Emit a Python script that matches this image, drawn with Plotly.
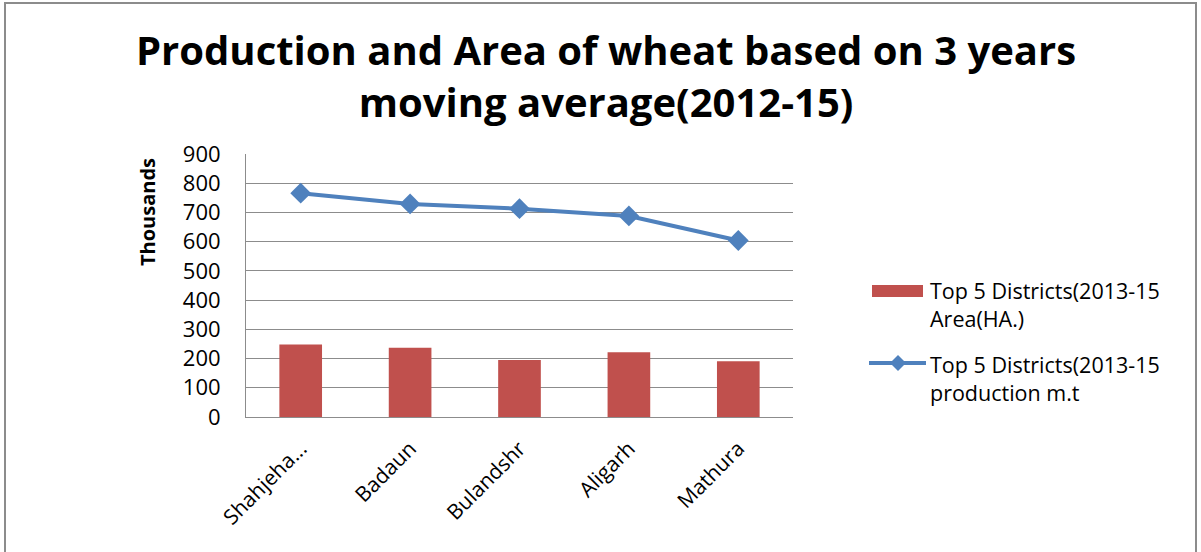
import plotly.graph_objects as go

districts = ["Shahjeha...", "Badaun", "Bulandshr", "Aligarh", "Mathura"]
area_vals = [248, 237, 195, 222, 191]
prod_vals = [766, 729, 713, 688, 604]
y_ticks = [0, 100, 200, 300, 400, 500, 600, 700, 800, 900]
legend_labels = ["Top 5 Districts(2013-15<br>Area(HA.)",
                 "Top 5 Districts(2013-15<br>production m.t"]
title_text = "Production and Area of wheat based on 3 years<br>moving average(2012-15)"

FONT = "'Open Sans', Lato, sans-serif"
BAR_C = "#C0504D"
LINE_C = "#4F81BD"
GRID_C = "#8C8C8C"

fig = go.Figure()
fig.add_trace(go.Bar(
    x=districts, y=area_vals, name=legend_labels[0],
    marker=dict(color=BAR_C, line=dict(width=0)),
    width=0.39, showlegend=False,
))
fig.add_trace(go.Scatter(
    x=districts, y=prod_vals, mode="lines+markers", name=legend_labels[1],
    line=dict(color=LINE_C, width=4),
    marker=dict(symbol="diamond", size=16, color=LINE_C),
    showlegend=False,
))

L, R, T, B = 246, 793, 154, 417
W, H = 1201, 552
pw, ph = R - L, B - T

def px(x):
    return (x - L) / pw

def py(y):
    return (B - y) / ph

shapes = [
    dict(type="rect", xref="paper", yref="paper",
         x0=px(5), x1=px(1196), y0=py(560), y1=py(3),
         line=dict(color="#8C8C8C", width=2), fillcolor="rgba(0,0,0,0)",
         layer="below"),
    dict(type="rect", xref="paper", yref="paper",
         x0=px(872), x1=px(923), y0=py(297), y1=py(285),
         line=dict(width=0), fillcolor=BAR_C),
    dict(type="line", xref="paper", yref="paper",
         x0=px(869), x1=px(926), y0=py(363), y1=py(363),
         line=dict(color=LINE_C, width=4)),
    dict(type="path", xref="paper", yref="paper",
         path="M {a},{m} L {b},{t} L {c},{m} L {b},{d} Z".format(
             a=px(890), b=px(898), c=px(906), m=py(363), t=py(355), d=py(371)),
         line=dict(width=0), fillcolor=LINE_C),
]

annotations = [
    dict(text="<b>" + title_text + "</b>", xref="paper", yref="paper",
         x=px(606), y=py(75), xanchor="center", yanchor="middle",
         showarrow=False, font=dict(size=40, family=FONT, color="black")),
    dict(text="<b>Thousands</b>", xref="paper", yref="paper",
         x=px(147), y=py(212), xanchor="center", yanchor="middle", textangle=-90,
         showarrow=False, font=dict(size=20, family=FONT, color="black")),
]
for txt, yc in zip(legend_labels, [304, 378]):
    annotations.append(dict(
        text=txt, xref="paper", yref="paper",
        x=px(928), y=py(yc), xanchor="left", yanchor="middle", align="left",
        showarrow=False, font=dict(size=21.5, family=FONT, color="black")))

fig.update_layout(
    width=W, height=H,
    margin=dict(l=L, r=W - R, t=T, b=H - B, autoexpand=False),
    paper_bgcolor="white", plot_bgcolor="white",
    font=dict(family=FONT, color="black", size=20),
    showlegend=False,
    xaxis=dict(
        showgrid=False, showline=True, linecolor=GRID_C, linewidth=1,
        tickangle=-45, tickfont=dict(size=21, family=FONT, color="black"),
        ticks="outside", ticklen=10, tickcolor="rgba(0,0,0,0)",
    ),
    yaxis=dict(
        range=[0, 900], tickvals=y_ticks,
        showgrid=True, gridcolor=GRID_C, gridwidth=1,
        showline=True, linecolor=GRID_C, linewidth=1,
        ticks="outside", ticklen=20, tickcolor="rgba(0,0,0,0)",
        tickfont=dict(size=22, family=FONT, color="black"),
        zeroline=False,
    ),
    shapes=shapes,
    annotations=annotations,
)

fig.write_html("out.html")
